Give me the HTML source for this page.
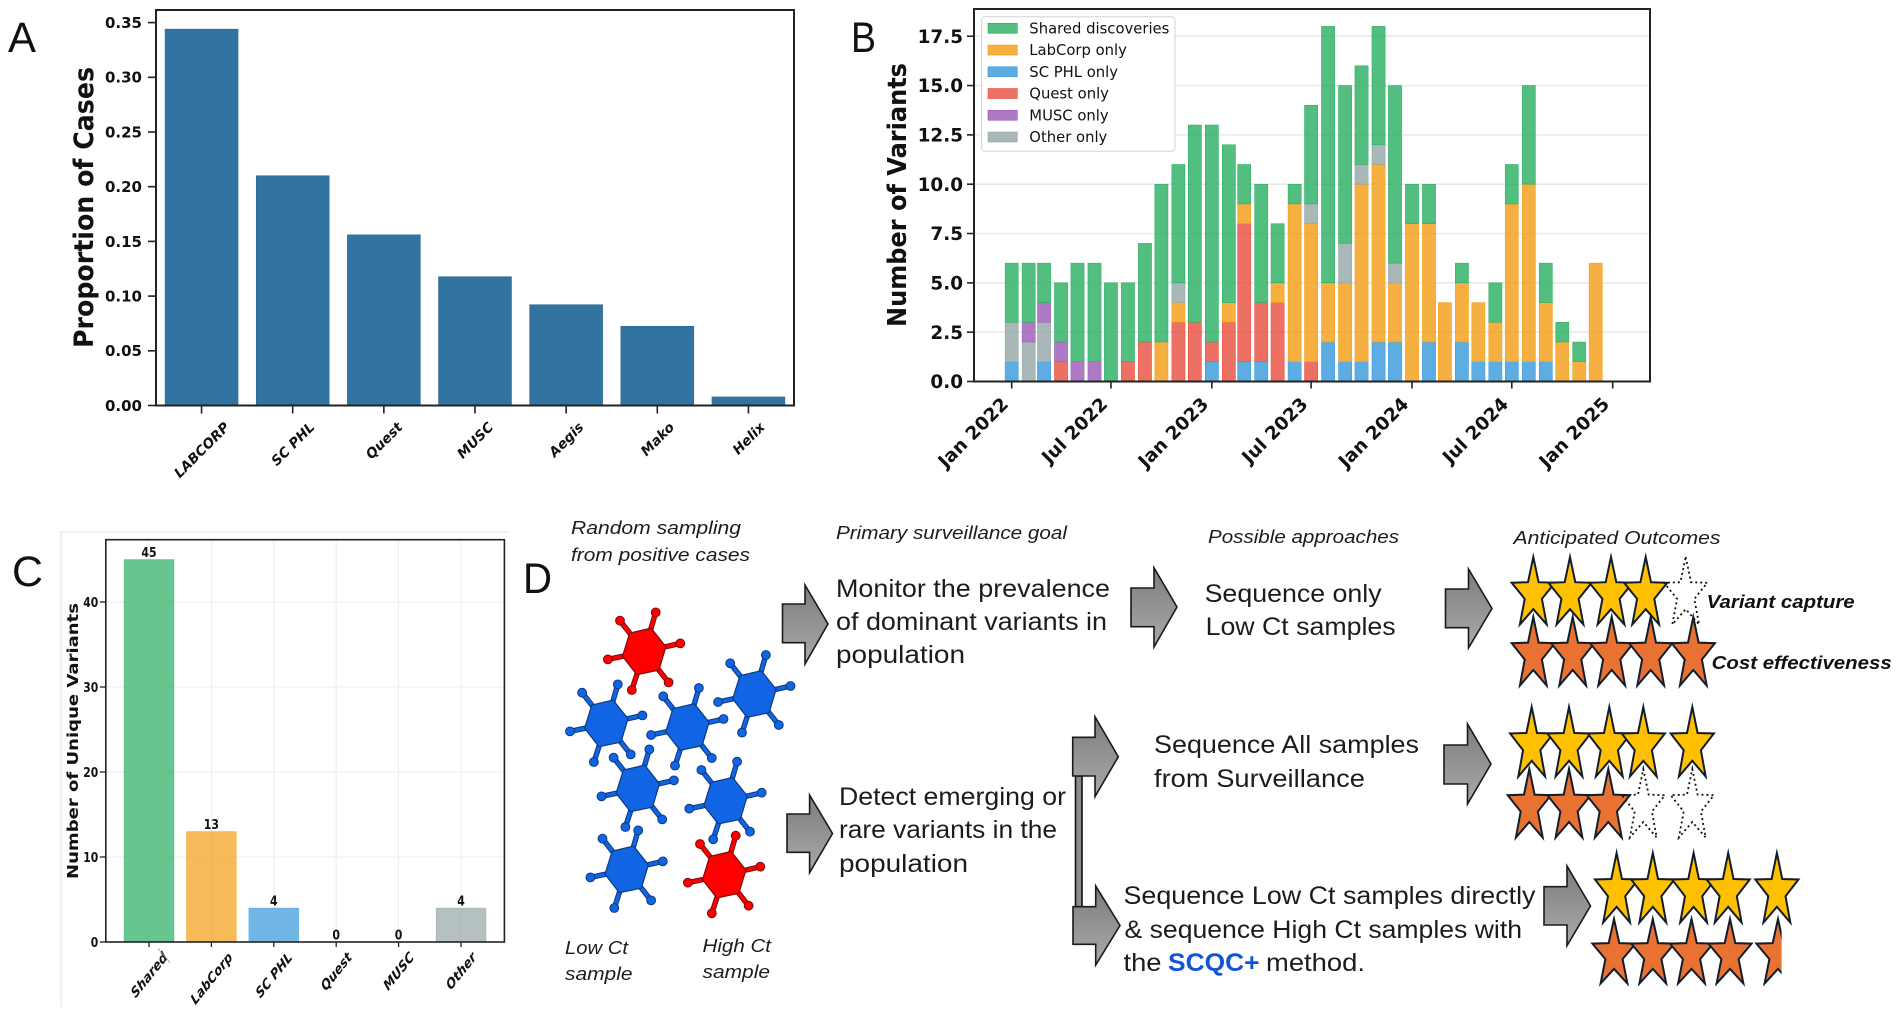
<!DOCTYPE html>
<html lang="en">
<head>
<meta charset="utf-8">
<title>Variant surveillance figure</title>
<style>
html,body{margin:0;padding:0;background:#fff;}
svg{display:block;}
.d{font-family:"Liberation Sans",sans-serif;fill:#1c1c1c;font-size:25px;}
.h{font-family:"Liberation Sans",sans-serif;fill:#1c1c1c;font-size:18px;font-style:italic;}
.o{font-family:"Liberation Sans",sans-serif;fill:#111;font-size:18px;font-style:italic;font-weight:bold;}
.p{font-family:"Liberation Sans",sans-serif;fill:#111;font-size:43px;}
.arrow{fill:url(#arrowGrad);stroke:#1a1a1a;stroke-width:1.6;stroke-linejoin:miter;}
</style>
</head>
<body>
<svg id="fig" xmlns="http://www.w3.org/2000/svg" width="1901" height="1015" viewBox="0 0 1901 1015">
  <defs>
    <linearGradient id="arrowGrad" x1="0" y1="0" x2="0" y2="1">
      <stop offset="0" stop-color="#7c7c7c"/>
      <stop offset="1" stop-color="#aaaaaa"/>
    </linearGradient>
    <clipPath id="clipLastStar"><rect x="1740" y="900" width="41.6" height="100"/></clipPath>
  </defs>
  <rect x="0" y="0" width="1901" height="1015" fill="#ffffff"/>

  <text class="p" x="8" y="52" textLength="28" lengthAdjust="spacingAndGlyphs">A</text>
  <text class="p" x="851" y="52" textLength="25" lengthAdjust="spacingAndGlyphs">B</text>
  <text class="p" x="12" y="586" textLength="31" lengthAdjust="spacingAndGlyphs">C</text>
  <text class="p" x="523" y="593" textLength="29" lengthAdjust="spacingAndGlyphs">D</text>

  <g id="panelA"></g>
  <g id="panelB"></g>
  <g id="panelC"></g>

  <g id="panelD">
    <text class="h" x="571" y="534" textLength="170" lengthAdjust="spacingAndGlyphs">Random sampling</text>
    <text class="h" x="571" y="561" textLength="179" lengthAdjust="spacingAndGlyphs">from positive cases</text>
    <text class="h" x="836" y="539" textLength="231" lengthAdjust="spacingAndGlyphs">Primary surveillance goal</text>
    <text class="h" x="1208" y="543" textLength="191" lengthAdjust="spacingAndGlyphs">Possible approaches</text>
    <text class="h" x="1513.5" y="544" textLength="207" lengthAdjust="spacingAndGlyphs">Anticipated Outcomes</text>

    <text class="d" x="836" y="597" textLength="274" lengthAdjust="spacingAndGlyphs">Monitor the prevalence</text>
    <text class="d" x="836" y="630" textLength="271" lengthAdjust="spacingAndGlyphs">of dominant variants in</text>
    <text class="d" x="836" y="663" textLength="129" lengthAdjust="spacingAndGlyphs">population</text>
    <text class="d" x="839" y="805" textLength="227" lengthAdjust="spacingAndGlyphs">Detect emerging or</text>
    <text class="d" x="839" y="838" textLength="218" lengthAdjust="spacingAndGlyphs">rare variants in the</text>
    <text class="d" x="839" y="872" textLength="129" lengthAdjust="spacingAndGlyphs">population</text>

    <text class="d" x="1204.6" y="602" textLength="177" lengthAdjust="spacingAndGlyphs">Sequence only</text>
    <text class="d" x="1205.6" y="635" textLength="190" lengthAdjust="spacingAndGlyphs">Low Ct samples</text>
    <text class="d" x="1154" y="753" textLength="265" lengthAdjust="spacingAndGlyphs">Sequence All samples</text>
    <text class="d" x="1154" y="787" textLength="211" lengthAdjust="spacingAndGlyphs">from Surveillance</text>
    <text class="d" x="1123.5" y="904" textLength="412" lengthAdjust="spacingAndGlyphs">Sequence Low Ct samples directly</text>
    <text class="d" x="1124.5" y="938" textLength="397.5" lengthAdjust="spacingAndGlyphs">&amp; sequence High Ct samples with</text>
    <text class="d" x="1123.5" y="971" textLength="38" lengthAdjust="spacingAndGlyphs">the</text>
    <text class="d" x="1168" y="971" textLength="91.6" lengthAdjust="spacingAndGlyphs" style="fill:#1155d4;font-weight:bold">SCQC+</text>
    <text class="d" x="1266" y="971" textLength="99" lengthAdjust="spacingAndGlyphs">method.</text>

    <text class="h" x="565" y="954" textLength="63" lengthAdjust="spacingAndGlyphs">Low Ct</text>
    <text class="h" x="565" y="980" textLength="67.5" lengthAdjust="spacingAndGlyphs">sample</text>
    <text class="h" x="702.5" y="952" textLength="68.5" lengthAdjust="spacingAndGlyphs">High Ct</text>
    <text class="h" x="702.5" y="978" textLength="67.5" lengthAdjust="spacingAndGlyphs">sample</text>

    <text class="o" x="1706.7" y="608" textLength="148" lengthAdjust="spacingAndGlyphs">Variant capture</text>
    <text class="o" x="1711.7" y="669" textLength="180" lengthAdjust="spacingAndGlyphs">Cost effectiveness</text>

    <rect x="1075.5" y="776" width="6.5" height="131" fill="#8a8a8a" stroke="#111" stroke-width="1.6"/>
    <polygon class="arrow" points="782.5,604 805,604 805,585 828,624 805,664 805,642.7 782.5,642.7"/>
    <polygon class="arrow" points="787,814 809.6,814 809.6,795 832.5,833.5 809.6,872.7 809.6,852.3 787,852.3"/>
    <polygon class="arrow" points="1131,588 1154,588 1154,567.7 1177,607 1154,647 1154,626.7 1131,626.7"/>
    <polygon class="arrow" points="1445.5,589 1468.5,589 1468.5,569 1492,608.5 1468.5,648 1468.5,627.7 1445.5,627.7"/>
    <polygon class="arrow" points="1072.7,737.3 1095,737.3 1095,716.7 1118.3,756.7 1095,796.7 1095,776 1072.7,776"/>
    <polygon class="arrow" points="1073,906.7 1095.7,906.7 1095.7,886 1120,925.5 1095.7,965 1095.7,944.3 1073,944.3"/>
    <polygon class="arrow" points="1444,745 1467.5,745 1467.5,724 1491,764 1467.5,804 1467.5,784 1444,784"/>
    <polygon class="arrow" points="1544,886.7 1567,886.7 1567,866 1590.5,906 1567,945.7 1567,925 1544,925"/>
  </g>
</svg>

<script>
// ---------- Panel A data ----------
const labNames = ['LABCORP','SC PHL','Quest','MUSC','Aegis','Mako','Helix'];
const caseProportions = [0.344,0.210,0.156,0.1177,0.0921,0.0724,0.0078];
const proportionTicks = [0,0.05,0.10,0.15,0.20,0.25,0.30,0.35];

// ---------- Panel B data ----------
const months = ['2022-01','2022-02','2022-03','2022-04','2022-05','2022-06','2022-07','2022-08','2022-09','2022-10','2022-11','2022-12',
                '2023-01','2023-02','2023-03','2023-04','2023-05','2023-06','2023-07','2023-08','2023-09','2023-10','2023-11','2023-12',
                '2024-01','2024-02','2024-03','2024-04','2024-05','2024-06','2024-07','2024-08','2024-09','2024-10','2024-11','2024-12'];
const scPhlOnly  = [1,0,1,0,0,0,0,0,0,0,0,0,1,0,1,1,0,1,0,2,1,1,2,2,0,2,0,2,1,1,1,1,1,0,0,0];
const questOnly  = [0,0,0,1,0,0,0,1,2,0,3,3,1,3,7,3,4,0,1,0,0,0,0,0,0,0,0,0,0,0,0,0,0,0,0,0];
const labcorpOnly= [0,0,0,0,0,0,0,0,0,2,1,0,0,1,1,0,1,8,7,3,4,9,9,3,8,6,4,3,3,2,8,9,3,2,1,6];
const otherOnly  = [2,2,2,0,0,0,0,0,0,0,1,0,0,0,0,0,0,0,1,0,2,1,1,1,0,0,0,0,0,0,0,0,0,0,0,0];
const muscOnly   = [0,1,1,1,1,1,0,0,0,0,0,0,0,0,0,0,0,0,0,0,0,0,0,0,0,0,0,0,0,0,0,0,0,0,0,0];
const sharedDiscoveries = [3,3,2,3,5,5,5,4,5,8,6,10,11,8,2,6,3,1,5,13,8,5,6,9,2,2,0,1,0,2,2,5,2,1,1,0];
const variantTicks = [0,2.5,5,7.5,10,12.5,15,17.5];
const dateTicks = ['2022-01','2022-07','2023-01','2023-07','2024-01','2024-07','2025-01'];
const dateTickLabels = ['Jan 2022','Jul 2022','Jan 2023','Jul 2023','Jan 2024','Jul 2024','Jan 2025'];
const legendLabels = ['Shared discoveries','LabCorp only','SC PHL only','Quest only','MUSC only','Other only'];

// ---------- Panel C data ----------
const sourceNames = ['Shared','LabCorp','SC PHL','Quest','MUSC','Other'];
const uniqueVariants = [45,13,4,0,0,4];
const uniqueTicks = [0,10,20,30,40];

const SVGNS = 'http://www.w3.org/2000/svg';
const DJ = '"DejaVu Sans",sans-serif';
const GREEN='#27ae60', ORANGE='#f39c12', BLUE='#3498db', RED='#e74c3c', PURPLE='#9b59b6', GRAY='#95a5a6';

function make(tag, attrs, parent){
  const n = document.createElementNS(SVGNS, tag);
  for (const k in attrs) n.setAttribute(k, attrs[k]);
  parent.appendChild(n);
  return n;
}
function spines(parent, l, r, t, b, color, w){
  const box = make('rect',{x:l,y:t,width:r-l,height:b-t,fill:'none',stroke:color,'stroke-width':w},parent);
  
  
}

/* ===== Panel A ===== */
(function(){
  const g = document.getElementById('panelA');
  const L=156,R=794,T=10,B=405.5;
  const band=(R-L)/labNames.length;
  const xA=i=>L+band*(i+0.5);
  const yA=v=>B-v*1094;
  const fs=15;
  labNames.forEach(function(name,i){
    const h=caseProportions[i]*1094;
    const bar=make('rect',{x:xA(i)-band*0.4,y:yA(caseProportions[i]),width:band*0.8,height:h,fill:'#3274a1',stroke:'#2c6690','stroke-width':0.6},g);
    
    
  });
  spines(g,L,R,T,B,'#222',2);
  proportionTicks.forEach(function(v){
    const y=yA(v);
    const tk=make('line',{x1:L-8,x2:L,y1:y,y2:y,stroke:'#222','stroke-width':1.6},g);
    
    
    const t=make('text',{x:L-14,y:y+fs*0.36,'text-anchor':'end','font-family':DJ,'font-weight':'bold','font-size':fs,fill:'#111'},g);
    t.textContent=v.toFixed(2);
    
    
  });
  labNames.forEach(function(name,i){
    const x=xA(i);
    const tk=make('line',{x1:x,x2:x,y1:B,y2:B+8,stroke:'#222','stroke-width':1.6},g);
    
    
    const t=make('text',{x:x,y:0,'text-anchor':'middle','font-family':DJ,'font-weight':'bold','font-style':'italic','font-size':13.6,fill:'#111'},g);
    t.textContent=name;
    
    
    const w=t.getComputedTextLength();
    const cy=421+(w+10)*0.3536;
    t.setAttribute('y',cy+4.9);
    t.setAttribute('transform','rotate(-45 '+x+' '+cy+')');
  });
  const title=make('text',{x:0,y:0,'text-anchor':'middle','font-family':DJ,'font-weight':'bold','font-size':27,fill:'#111',textLength:281,lengthAdjust:'spacingAndGlyphs',transform:'translate(93 207.5) rotate(-90)'},g);
  title.textContent='Proportion of Cases';
  
  
})();

/* ===== Panel B ===== */
(function(){
  const g=document.getElementById('panelB');
  const L=974,R=1650,T=9,B=381.5;
  const t0=Date.UTC(2022,0,1), t1=Date.UTC(2025,0,1);
  const xB=function(m){const p=m.split('-');return 1011.7+(Date.UTC(+p[0],+p[1]-1,1)-t0)/(t1-t0)*601;};
  const yB=v=>B-v*19.73;
  const fs=18.4;
  variantTicks.forEach(function(v){
    if(v===0) return;
    const gl=make('line',{x1:L,x2:R,y1:yB(v),y2:yB(v),stroke:'#e9e9e9','stroke-width':1.6},g);
    
    
  });
  const stack=[[scPhlOnly,BLUE,'sc-phl'],[questOnly,RED,'quest'],[labcorpOnly,ORANGE,'labcorp'],[otherOnly,GRAY,'other'],[muscOnly,PURPLE,'musc'],[sharedDiscoveries,GREEN,'shared']];
  months.forEach(function(m,i){
    let base=0;
    stack.forEach(function(s){
      const v=s[0][i];
      if(!v) return;
      const r=make('rect',{x:xB(m)-6.6,y:yB(base+v),width:13.2,height:yB(base)-yB(base+v),fill:s[1],'fill-opacity':0.8,stroke:s[1],'stroke-width':0.5},g);
      
      
      base+=v;
    });
  });
  spines(g,L,R,T,B,'#222',2);
  variantTicks.forEach(function(v){
    const y=yB(v);
    const tk=make('line',{x1:L-7,x2:L,y1:y,y2:y,stroke:'#222','stroke-width':1.6},g);
    
    
    const t=make('text',{x:L-11,y:y+fs*0.36,'text-anchor':'end','font-family':DJ,'font-weight':'bold','font-size':fs,fill:'#111'},g);
    t.textContent=v.toFixed(1);
    
    
  });
  dateTicks.forEach(function(m,i){
    const x=xB(m);
    const tk=make('line',{x1:x,x2:x,y1:B,y2:B+7,stroke:'#222','stroke-width':1.6},g);
    
    
    const ax=x-7, ay=400.5;
    const t=make('text',{x:ax,y:ay+fs*0.36,'text-anchor':'end','font-family':DJ,'font-weight':'bold','font-size':fs,fill:'#111',transform:'rotate(-45 '+ax+' '+ay+')'},g);
    t.textContent=dateTickLabels[i];
    
    
  });
  const title=make('text',{x:0,y:0,'text-anchor':'middle','font-family':DJ,'font-weight':'bold','font-size':26,fill:'#111',textLength:264,lengthAdjust:'spacingAndGlyphs',transform:'translate(906 195) rotate(-90)'},g);
  title.textContent='Number of Variants';
  
  

  const legend=make('g',{},g);
  
  
  const box=make('rect',{x:981.7,y:16.7,width:193.3,height:134.5,rx:3,ry:3,fill:'#fff','fill-opacity':0.9,stroke:'#d4d4d4','stroke-width':1},legend);
  
  
  const legendColors=[GREEN,ORANGE,BLUE,RED,PURPLE,GRAY];
  legendLabels.forEach(function(lbl,i){
    const cy=28.3+i*21.74;
    const sw=make('rect',{x:988,y:cy-5,width:29.3,height:10,fill:legendColors[i],'fill-opacity':0.8,stroke:legendColors[i],'stroke-width':0.6},legend);
    
    
    const t=make('text',{x:1029.3,y:cy+5.2,'font-family':DJ,'font-size':14.8,fill:'#111'},legend);
    t.textContent=lbl;
    
    
  });
})();

/* ===== Panel C ===== */
(function(){
  const g=document.getElementById('panelC');
  const L=105.8,R=504.4,T=539.7,B=942;
  const xC=i=>149+62.4*i;
  const yC=v=>B-v*8.5;
  const colors=[GREEN,ORANGE,BLUE,RED,PURPLE,GRAY];
  const f1=make('line',{x1:61,x2:61,y1:532,y2:1007,stroke:'#e3e3e3','stroke-width':1},g);
  
  
  const f2=make('line',{x1:61,x2:509,y1:532,y2:532,stroke:'#e3e3e3','stroke-width':1},g);
  
  
  uniqueTicks.forEach(function(v){
    if(v===0) return;
    const gl=make('line',{x1:L,x2:R,y1:yC(v),y2:yC(v),stroke:'#ededed','stroke-width':1},g);
    
    
  });
  sourceNames.forEach(function(n,i){
    const gl=make('line',{x1:xC(i),x2:xC(i),y1:T,y2:B,stroke:'#ededed','stroke-width':1},g);
    
    
  });
  sourceNames.forEach(function(n,i){
    const v=uniqueVariants[i];
    if(v>0){
      const r=make('rect',{x:xC(i)-25,y:yC(v),width:50,height:yC(0)-yC(v),fill:colors[i],'fill-opacity':0.7,stroke:colors[i],'stroke-opacity':0.5,'stroke-width':0.6},g);
      
      
    }
    const lab=make('text',{x:xC(i),y:yC(v)-2.5,'text-anchor':'middle','font-family':DJ,'font-weight':'bold','font-size':13.5,fill:'#111',textLength:String(v).length*7.6,lengthAdjust:'spacingAndGlyphs'},g);
    lab.textContent=String(v);
    
    
  });
  spines(g,L,R,T,B,'#222',1.6);
  uniqueTicks.forEach(function(v){
    const y=yC(v);
    const tk=make('line',{x1:L-6,x2:L,y1:y,y2:y,stroke:'#222','stroke-width':1.3},g);
    
    
    const t=make('text',{x:L-7.5,y:y+5,'text-anchor':'end','font-family':DJ,'font-weight':'bold','font-size':13.5,fill:'#111',textLength:String(v).length*7.5,lengthAdjust:'spacingAndGlyphs'},g);
    t.textContent=String(v);
    
    
  });
  sourceNames.forEach(function(n,i){
    const x=xC(i);
    const tk=make('line',{x1:x,x2:x,y1:B,y2:B+5,stroke:'#222','stroke-width':1.3},g);
    
    
    const t=make('text',{x:0,y:4,'text-anchor':'middle','font-family':DJ,'font-weight':'bold','font-style':'italic','font-size':11.5,fill:'#111'},g);
    t.textContent=n;
    
    
    const w=t.getComputedTextLength();
    const cy=951+(w+8)*0.3536*1.25;
    t.setAttribute('transform','translate('+x+' '+cy+') scale(1 1.25) rotate(-45)');
  });
  const slash=make('line',{x1:158,y1:948.3,x2:170,y2:962.7,stroke:'#999','stroke-width':0.8},g);
  
  
  const title=make('text',{x:0,y:0,'text-anchor':'middle','font-family':DJ,'font-weight':'bold','font-size':15.5,fill:'#111',textLength:276,lengthAdjust:'spacingAndGlyphs',transform:'translate(78 741) rotate(-90)'},g);
  title.textContent='Number of Unique Variants';
  
  
})();

/* ===== Panel D: virus icons and rating stars ===== */
(function(){
  const g=document.getElementById('panelD');
  const spikeEnds=[[-24.3,-31],[11.4,-39.3],[36,-8.3],[24.3,30.7],[-12.5,38.3],[-36.4,7.7]];
  const viruses=[
    [644.3,651.7,'high'],[606.4,723.7,'low'],[687.5,727.3,'low'],[754.5,694.3,'low'],
    [637.9,788.7,'low'],[725.7,801,'low'],[626.8,869.7,'low'],[724.3,875,'high']
  ];
  viruses.forEach(function(v,idx){
    const high=v[2]==='high';
    const fill=high?'#ff0000':'#1164e4';
    const edge=high?'#7c0a0a':'#0c3a80';
    const vg=make('g',{transform:'translate('+v[0]+' '+v[1]+')'},g);
    
    
    spikeEnds.forEach(function(p){
      const under=make('line',{x1:p[0]*0.5,y1:p[1]*0.5,x2:p[0],y2:p[1],stroke:edge,'stroke-width':5.4},vg);
      
      
      const over=make('line',{x1:p[0]*0.5,y1:p[1]*0.5,x2:p[0],y2:p[1],stroke:fill,'stroke-width':3.4},vg);
      
      
      const ball=make('circle',{cx:p[0],cy:p[1],r:4.4,fill:fill,stroke:edge,'stroke-width':1},vg);
      
      
    });
    const hex=make('polygon',{points:spikeEnds.map(function(p){return (p[0]*0.6).toFixed(1)+','+(p[1]*0.6).toFixed(1);}).join(' '),fill:fill,stroke:edge,'stroke-width':1.2},vg);
    
    
  });

  function starPts(cx,top,bottom){
    top+=2; bottom-=1.5;
    const h=bottom-top, ry=h/1.809, rx=21.6/0.951, cy=top+ry, pts=[];
    for(let i=0;i<10;i++){
      const a=-Math.PI/2+i*Math.PI/5, r=i%2?0.40:1;
      pts.push((cx+rx*r*Math.cos(a)).toFixed(1)+','+(cy+ry*r*Math.sin(a)).toFixed(1));
    }
    return pts.join(' ');
  }
  const YEL='#ffc000', ORG='#e97132';
  const rows=[
    ['variant-capture-low-ct',555,626,YEL,[1533.3,1570,1611,1645.7,1685.7],4],
    ['cost-effectiveness-low-ct',615,687,ORG,[1533.3,1572.7,1611.7,1650.7,1693.3],5],
    ['variant-capture-all',705,778,YEL,[1531.7,1569,1609.3,1643.3,1692.3],5],
    ['cost-effectiveness-all',767,839,ORG,[1529.3,1569,1608.3,1643.3,1692.3],3],
    ['variant-capture-scqc',851,924,YEL,[1616.6,1652.8,1693.6,1728.2,1776.9],5],
    ['cost-effectiveness-scqc',917,985,ORG,[1614,1652.8,1691.5,1730,1778],4.5]
  ];
  rows.forEach(function(row){
    const rg=make('g',{},g);
    
    
    row[4].forEach(function(cx,i){
      const filled=i<row[5];
      const attrs={points:starPts(cx,row[1],row[2]),'stroke-linejoin':'miter','stroke-miterlimit':6};
      if(filled){attrs.fill=row[3];attrs.stroke='#111d2c';attrs['stroke-width']=2;}
      else{attrs.fill='none';attrs.stroke='#111';attrs['stroke-width']=1.8;attrs['stroke-dasharray']='2 3';}
      if(row[5]===4.5 && i===4){attrs.fill=row[3];attrs.stroke='#111d2c';attrs['stroke-width']=2;attrs['stroke-dasharray']='none';attrs['clip-path']='url(#clipLastStar)';}
      const s=make('polygon',attrs,rg);
      
      
    });
  });
})();
</script>
</body>
</html>
